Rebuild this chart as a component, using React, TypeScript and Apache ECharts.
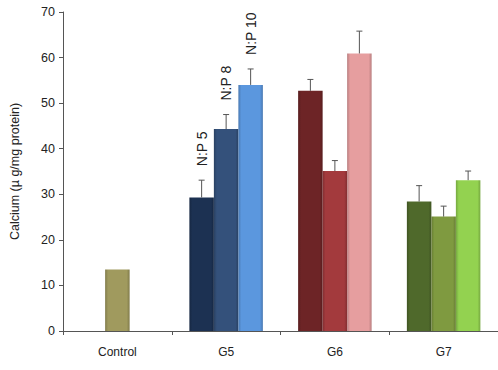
import React, { useEffect, useRef } from "react";
import * as echarts from "echarts";

const categories = ["Control", "G5", "G6", "G7"];
const seriesNames = ["N:P 5", "N:P 8", "N:P 10"];
// values per series across categories (Control only in the middle slot)
const np5Values: (number | null)[] = [null, 29.3, 52.7, 28.4];
const np8Values: (number | null)[] = [13.5, 44.3, 35.1, 25.1];
const np10Values: (number | null)[] = [null, 54.0, 60.9, 33.1];
const np5ErrTop: (number | null)[] = [null, 33.1, 55.2, 31.9];
const np8ErrTop: (number | null)[] = [null, 47.5, 37.4, 27.4];
const np10ErrTop: (number | null)[] = [null, 57.5, 65.8, 35.1];
const yTicks = [0, 10, 20, 30, 40, 50, 60, 70];

const colors: string[][] = [
  // [np5, np8, np10] per category
  ["#9c9460", "#a09a5e", "#9c9460"],
  ["#1c3152", "#34517b", "#5b97de"],
  ["#6d2426", "#a33a3d", "#e69e9f"],
  ["#4f692b", "#7f9a40", "#93d250"],
];

const FONT = "'Liberation Sans', Arial, sans-serif";

function shade(hex: string, f: number): string {
  const n = parseInt(hex.slice(1), 16);
  let r = (n >> 16) & 255, g = (n >> 8) & 255, b = n & 255;
  r = Math.round(r * f); g = Math.round(g * f); b = Math.round(b * f);
  return `rgb(${Math.min(255, r)},${Math.min(255, g)},${Math.min(255, b)})`;
}

function grad(hex: string) {
  return new echarts.graphic.LinearGradient(0, 0, 1, 0, [
    { offset: 0, color: shade(hex, 0.8) },
    { offset: 0.12, color: hex },
    { offset: 0.88, color: hex },
    { offset: 1, color: shade(hex, 0.8) },
  ]);
}

const BAR_W = 24.5;

export default function App() {
  const ref = useRef<HTMLDivElement>(null);
  useEffect(() => {
    if (!ref.current) return;
    const chart = echarts.init(ref.current, null, { renderer: "svg" });
    const valueSets = [np5Values, np8Values, np10Values];
    const errSets = [np5ErrTop, np8ErrTop, np10ErrTop];

    const barSeries = valueSets.map((vals, si) => ({
      type: "bar",
      name: seriesNames[si],
      barWidth: BAR_W,
      barGap: "0%",
      data: vals.map((v, ci) =>
        v == null ? null : { value: v, itemStyle: { color: grad(colors[ci][si]) } }
      ),
    }));

    const errSeries = errSets.map((errs, si) => ({
      type: "custom",
      name: seriesNames[si] + " err",
      silent: true,
      z: 5,
      data: errs
        .map((e, ci) => (e == null ? null : [ci, valueSets[si][ci], e]))
        .filter((d) => d != null),
      encode: { x: 0, y: [1, 2] },
      renderItem: (params: any, api: any) => {
        const ci = api.value(0);
        const base = api.coord([ci, api.value(1)]);
        const top = api.coord([ci, api.value(2)]);
        const x = base[0] + (si - 1) * BAR_W;
        const children: any[] = [
          { type: "line", shape: { x1: x, y1: base[1], x2: x, y2: top[1] }, style: { stroke: "#555", lineWidth: 1 } },
          { type: "line", shape: { x1: x - 3, y1: top[1], x2: x + 3, y2: top[1] }, style: { stroke: "#555", lineWidth: 1 } },
        ];
        if (ci === 1) {
          children.push({
            type: "text",
            x: x,
            y: top[1] - 14,
            rotation: Math.PI / 2,
            style: {
              text: seriesNames[si],
              fill: "#222",
              font: "14px " + FONT,
              align: "left",
              verticalAlign: "middle",
            },
          });
        }
        return { type: "group", children };
      },
    }));

    chart.setOption({
      animation: false,
      grid: { left: 57, right: 0, top: 12, bottom: 39 },
      xAxis: {
        type: "category",
        data: categories,
        axisLine: { lineStyle: { color: "#555" } },
        axisTick: { show: true, length: 4, lineStyle: { color: "#555" } },
        axisLabel: { color: "#222", fontSize: 12, margin: 15, fontFamily: FONT },
      },
      yAxis: {
        type: "value",
        min: yTicks[0],
        max: yTicks[yTicks.length - 1],
        interval: 10,
        name: "Calcium (µ g/mg protein)",
        nameLocation: "middle",
        nameGap: 42,
        nameTextStyle: { color: "#222", fontSize: 12.5, fontFamily: FONT },
        axisLine: { show: true, lineStyle: { color: "#555" } },
        axisTick: { show: true, length: 4, lineStyle: { color: "#555" } },
        splitLine: { show: false },
        axisLabel: { color: "#222", fontSize: 12.5, margin: 8, fontFamily: FONT },
      },
      series: [...barSeries, ...errSeries],
    });
    return () => chart.dispose();
  }, []);
  return <div ref={ref} style={{ width: 498, height: 370, position: "absolute", left: 0, top: 0 }} />;
}
